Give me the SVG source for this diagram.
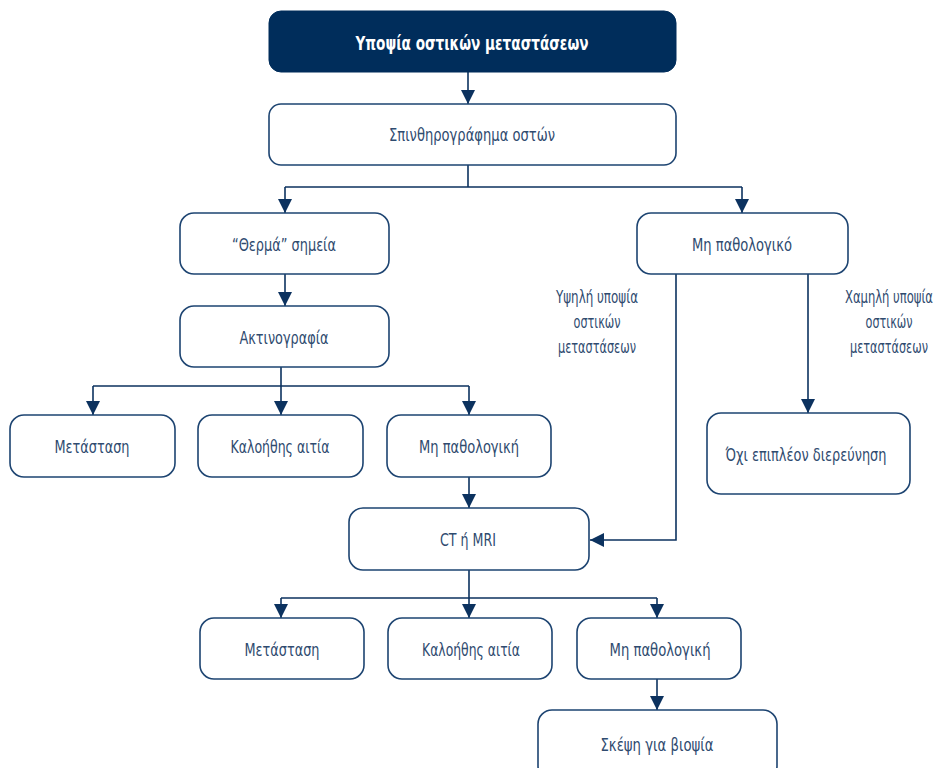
<svg xmlns="http://www.w3.org/2000/svg" width="937" height="768" viewBox="0 0 937 768">
<defs>
<marker id="ah" markerUnits="userSpaceOnUse" markerWidth="14" markerHeight="16" refX="14" refY="7" orient="auto">
<path d="M0,0 L14,7 L0,14 Z" fill="#0c325f"/>
</marker>
<style>
.box{fill:#fff;stroke:#1d4471;stroke-width:1.6}
.hdr{fill:#002d5b;stroke:#002d5b}
.t{font-family:"Liberation Sans Narrow","DejaVu Sans Condensed","Liberation Sans",sans-serif;font-size:18px;fill:#2f4b6f;text-anchor:middle}
.th{font-family:"Liberation Sans Narrow","DejaVu Sans Condensed","Liberation Sans",sans-serif;font-size:19px;font-weight:bold;fill:#fff;text-anchor:middle}
.c{fill:none;stroke:#0c325f;stroke-width:1.6}
.a{marker-end:url(#ah)}
</style>
</defs>
<rect width="937" height="768" fill="#fff"/>
<g id="connectors">
<path class="c a" d="M468,72 V104"/>
<path class="c" d="M468,165 V187 M285,187 H742"/>
<path class="c a" d="M285,187 V213"/>
<path class="c a" d="M742,187 V213"/>
<path class="c a" d="M285,274 V306"/>
<path class="c" d="M281,367 V386 M93,386 H469"/>
<path class="c a" d="M93,386 V415"/>
<path class="c a" d="M281,386 V415"/>
<path class="c a" d="M469,386 V415"/>
<path class="c a" d="M469,477 V508"/>
<path class="c a" d="M676,274 V540 H590"/>
<path class="c a" d="M808,274 V413"/>
<path class="c" d="M469,570 V598 M281,598 H657"/>
<path class="c a" d="M281,598 V618"/>
<path class="c a" d="M469,598 V618"/>
<path class="c a" d="M657,598 V618"/>
<path class="c a" d="M657,679 V710"/>
</g>
<g id="n-top"><rect class="hdr" x="269" y="11" width="407" height="61" rx="12"/><text class="th" x="472" y="50" textLength="233" lengthAdjust="spacingAndGlyphs">Υποψία οστικών μεταστάσεων</text></g>
<g id="n-scan"><rect class="box" x="269" y="104" width="407" height="61" rx="12"/><text class="t" x="472" y="141" textLength="166" lengthAdjust="spacingAndGlyphs">Σπινθηρογράφημα οστών</text></g>
<g id="n-hot"><rect class="box" x="180" y="213" width="209" height="61" rx="14"/><text class="t" x="284" y="251" textLength="104" lengthAdjust="spacingAndGlyphs">“Θερμά” σημεία</text></g>
<g id="n-xray"><rect class="box" x="180" y="306" width="209" height="61" rx="14"/><text class="t" x="284" y="344" textLength="89" lengthAdjust="spacingAndGlyphs">Ακτινογραφία</text></g>
<g id="n-met1"><rect class="box" x="10" y="415" width="165" height="62" rx="14"/><text class="t" x="92" y="453" textLength="75" lengthAdjust="spacingAndGlyphs">Μετάσταση</text></g>
<g id="n-ben1"><rect class="box" x="198" y="415" width="165" height="62" rx="14"/><text class="t" x="280" y="453" textLength="99" lengthAdjust="spacingAndGlyphs">Καλοήθης αιτία</text></g>
<g id="n-neg1"><rect class="box" x="387" y="415" width="164" height="62" rx="14"/><text class="t" x="469" y="453" textLength="100" lengthAdjust="spacingAndGlyphs">Μη παθολογική</text></g>
<g id="n-normal"><rect class="box" x="637" y="213" width="211" height="61" rx="14"/><text class="t" x="742" y="251" textLength="100" lengthAdjust="spacingAndGlyphs">Μη παθολογικό</text></g>
<g id="lbl-high"><text class="t" x="597" y="303" textLength="82" lengthAdjust="spacingAndGlyphs">Υψηλή υποψία</text><text class="t" x="597" y="328" textLength="47" lengthAdjust="spacingAndGlyphs">οστικών</text><text class="t" x="597" y="353" textLength="78" lengthAdjust="spacingAndGlyphs">μεταστάσεων</text></g>
<g id="lbl-low"><text class="t" x="889" y="303" textLength="88" lengthAdjust="spacingAndGlyphs">Χαμηλή υποψία</text><text class="t" x="889" y="328" textLength="47" lengthAdjust="spacingAndGlyphs">οστικών</text><text class="t" x="889" y="353" textLength="78" lengthAdjust="spacingAndGlyphs">μεταστάσεων</text></g>
<g id="n-none"><rect class="box" x="707" y="413" width="203" height="81" rx="14"/><text class="t" x="806" y="461" textLength="161" lengthAdjust="spacingAndGlyphs">Όχι επιπλέον διερεύνηση</text></g>
<g id="n-ct"><rect class="box" x="349" y="508" width="240" height="62" rx="14"/><text class="t" x="468" y="546" textLength="56" lengthAdjust="spacingAndGlyphs">CT ή MRI</text></g>
<g id="n-met2"><rect class="box" x="200" y="618" width="164" height="61" rx="14"/><text class="t" x="282" y="656" textLength="75" lengthAdjust="spacingAndGlyphs">Μετάσταση</text></g>
<g id="n-ben2"><rect class="box" x="388" y="618" width="164" height="61" rx="14"/><text class="t" x="471" y="656" textLength="98" lengthAdjust="spacingAndGlyphs">Καλοήθης αιτία</text></g>
<g id="n-neg2"><rect class="box" x="577" y="618" width="164" height="61" rx="14"/><text class="t" x="660" y="656" textLength="101" lengthAdjust="spacingAndGlyphs">Μη παθολογική</text></g>
<g id="n-biopsy"><rect class="box" x="538" y="710" width="239" height="70" rx="14"/><text class="t" x="657" y="751" textLength="113" lengthAdjust="spacingAndGlyphs">Σκέψη για βιοψία</text></g>
</svg>
